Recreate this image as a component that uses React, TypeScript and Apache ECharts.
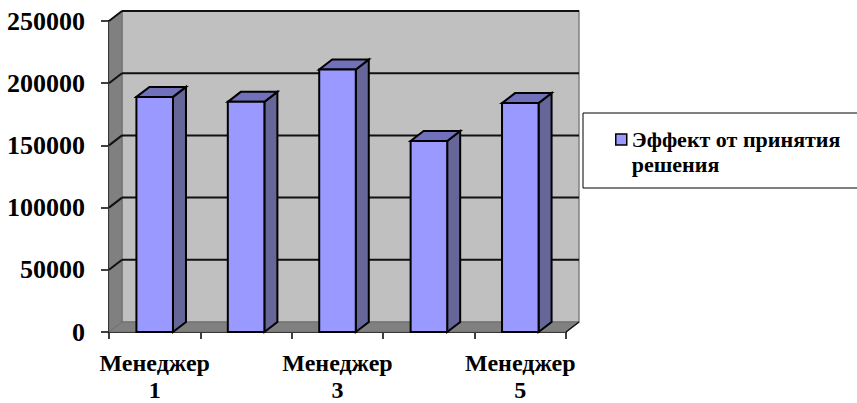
import React, { useEffect, useRef } from "react";
import * as echarts from "echarts";

const categories = ["Менеджер 1", "Менеджер 2", "Менеджер 3", "Менеджер 4", "Менеджер 5"];
const seriesName = "Эффект от принятия\nрешения";
const values = [189000, 185000, 211000, 153500, 184000];
const yTicks = [0, 50000, 100000, 150000, 200000, 250000];

const DX = 13;
const DY = -10;
const FONT = '"Liberation Serif", "Times New Roman", serif';

function poly(points: number[][], fill: string, stroke: string, lineWidth: number) {
  return { type: "polygon", shape: { points }, style: { fill, stroke, lineWidth } };
}
function seg(a: number[], b: number[], stroke: string, lineWidth: number) {
  return {
    type: "polyline",
    shape: { points: [a, b] },
    style: { fill: "none", stroke, lineWidth },
  };
}

function renderWalls(params: any, api: any) {
  const c = params.coordSys;
  const l = c.x, r = c.x + c.width, t = c.y, b = c.y + c.height;
  const children: any[] = [
    poly([[l + DX, t + DY], [r + DX, t + DY], [r + DX, b + DY], [l + DX, b + DY]], "#C0C0C0", "#808080", 1.5),
    poly([[l, t], [l + DX, t + DY], [l + DX, b + DY], [l, b]], "#808080", "#6e6e6e", 1),
    poly([[l, b], [l + DX, b + DY], [r + DX, b + DY], [r, b]], "#808080", "#6e6e6e", 1),
  ];
  yTicks.forEach((v) => {
    const y = api.coord([0, v])[1];
    if (v > 0) {
      children.push(seg([l + DX, y + DY], [r + DX, y + DY], "#111", 2));
      children.push(seg([l, y], [l + DX, y + DY], "#111", 2));
    }
  });
  children.push(seg([r, b], [r + DX, b + DY], "#111", 1.5));
  return { type: "group", children };
}

function renderBar(_params: any, api: any) {
  const p = api.coord([api.value(0), api.value(1)]);
  const base = api.coord([api.value(0), 0]);
  const w = api.size([1, 0])[0] * 0.4;
  const x0 = p[0] - w / 2, x1 = p[0] + w / 2, yt = p[1], yb = base[1];
  const lw = 2;
  return {
    type: "group",
    children: [
      poly([[x1, yb], [x1 + DX, yb + DY], [x1 + DX, yt + DY], [x1, yt]], "#666699", "#000", lw),
      poly([[x0, yt], [x0 + DX, yt + DY], [x1 + DX, yt + DY], [x1, yt]], "#7070BB", "#000", lw),
      poly([[x0, yt], [x1, yt], [x1, yb], [x0, yb]], "#9999FF", "#000", lw),
    ],
  };
}

export default function App() {
  const ref = useRef<HTMLDivElement>(null);
  useEffect(() => {
    const chart = echarts.init(ref.current!, undefined, { renderer: "svg" });
    chart.setOption({
      animation: false,
      backgroundColor: "#fff",
      textStyle: { fontFamily: FONT },
      grid: { left: 109, right: 291, top: 21, bottom: 71, outerBoundsMode: "none" },
      xAxis: {
        type: "category",
        data: categories,
        axisLine: { lineStyle: { color: "#000", width: 2 } },
        axisTick: { show: true, alignWithLabel: false, interval: 0, length: 7, lineStyle: { color: "#000", width: 1.5 } },
        axisLabel: {
          interval: 1,
          formatter: (s: string) => s.replace(" ", "\n"),
          fontFamily: FONT,
          fontWeight: "bold",
          fontSize: 24,
          lineHeight: 27,
          color: "#000",
          margin: 17,
        },
      },
      yAxis: {
        type: "value",
        min: 0,
        max: 250000,
        interval: 50000,
        splitLine: { show: false },
        axisLine: { show: true, lineStyle: { color: "#000", width: 2 } },
        axisTick: { show: true, length: 8, lineStyle: { color: "#000", width: 1.5 } },
        axisLabel: {
          formatter: (v: number) => String(v),
          fontFamily: FONT,
          fontWeight: "bold",
          fontSize: 26,
          color: "#000",
          margin: 24,
        },
      },
      legend: {
        left: 615,
        top: 102,
        padding: 0,
        itemWidth: 11,
        itemHeight: 11,
        itemGap: 0,
        formatter: (name: string) => "\n" + name,
        data: [{ name: seriesName, icon: "rect", itemStyle: { color: "#9999FF", borderColor: "#000", borderWidth: 1.5 } }],
        textStyle: {
          fontFamily: FONT,
          fontWeight: "bold",
          fontSize: 22,
          lineHeight: 25,
          color: "#000",
        },
      },
      graphic: [
        {
          type: "rect",
          shape: { x: 583, y: 113, width: 280, height: 75 },
          style: { fill: "#fff", stroke: "#000", lineWidth: 1 },
          z: -1,
        },
      ],
      series: [
        {
          type: "custom",
          name: "walls",
          renderItem: renderWalls,
          data: [[0, 0]],
          encode: { x: 0, y: 1 },
          clip: false,
          silent: true,
          z: 1,
        },
        {
          type: "custom",
          name: seriesName,
          renderItem: renderBar,
          data: values.map((v, i) => [i, v]),
          encode: { x: 0, y: 1 },
          clip: false,
          itemStyle: { color: "#9999FF" },
          z: 3,
        },
      ],
    });
    return () => chart.dispose();
  }, []);
  return <div ref={ref} style={{ position: "fixed", left: 0, top: 0, width: 857, height: 403 }} />;
}
